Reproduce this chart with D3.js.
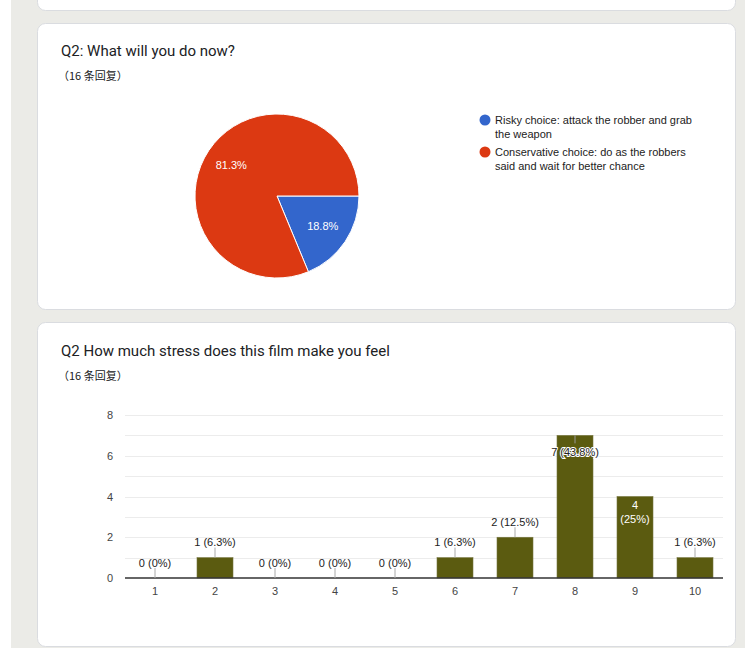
<!DOCTYPE html>
<html>
<head>
<meta charset="utf-8">
<script src="https://cdn.jsdelivr.net/npm/d3@7"></script>
<style>
  html, body { margin: 0; padding: 0; background: #fff; }
  svg { display: block; }
</style>
</head>
<body>
<svg id="page" width="754" height="648"></svg>
<script>
// pie: Q2 what will you do now
const choiceLabels = [
  ['Risky choice: attack the robber and grab', 'the weapon'],
  ['Conservative choice: do as the robbers', 'said and wait for better chance']
];
const choiceCounts = [3, 13];
const choiceColors = ['#3366cc', '#dc3912'];

// bars: stress level
const stressLevels = ['1', '2', '3', '4', '5', '6', '7', '8', '9', '10'];
const stressCounts = [0, 1, 0, 0, 0, 1, 2, 7, 4, 1];
const yTicks = [0, 2, 4, 6, 8];
const total = 16;

const svg = d3.select('#page');

// background + cards
svg.append('rect').attr('x', 11).attr('y', 0).attr('width', 734).attr('height', 648).attr('fill', '#ebebe7');
const cards = [[37, -20, 698, 30], [37, 23, 698, 286], [37, 322, 698, 324]];
cards.forEach(c => {
  svg.append('rect')
    .attr('x', c[0] + 0.5).attr('y', c[1] + 0.5)
    .attr('width', c[2]).attr('height', c[3])
    .attr('rx', 8)
    .attr('fill', '#fff')
    .attr('stroke', '#dadce0');
});

function header (title, y) {
  svg.append('text').attr('x', 61).attr('y', y)
    .style('font-family', 'Roboto, Arial, sans-serif').style('font-size', '15px').style('fill', '#202124')
    .text(title);
  svg.append('text').attr('x', 58).attr('y', y + 24)
    .style('font-family', '"Noto Sans CJK SC", sans-serif').style('font-size', '11px').style('fill', '#202124')
    .text('（16 条回复）');
}
header('Q2: What will you do now?', 56);
header('Q2 How much stress does this film make you feel', 356);

// ---- pie ----
const pie = d3.pie().sort(null).startAngle(Math.PI / 2).endAngle(Math.PI / 2 + 2 * Math.PI);
const arc = d3.arc().innerRadius(0).outerRadius(82);
const labelArc = d3.arc().innerRadius(55).outerRadius(55);
const pieG = svg.append('g').attr('transform', 'translate(277, 196)');
const slices = pie(choiceCounts);
pieG.selectAll('path').data(slices).enter().append('path')
  .attr('d', arc)
  .attr('fill', (d, i) => choiceColors[i])
  .attr('stroke', '#fff').attr('stroke-width', 1);
pieG.selectAll('text').data(slices).enter().append('text')
  .attr('transform', d => `translate(${labelArc.centroid(d)})`)
  .attr('text-anchor', 'middle').attr('dy', '0.35em')
  .style('font-family', 'Arial, "Liberation Sans", sans-serif').style('font-size', '11px').style('fill', '#fff')
  .text(d => (d.data / total * 100).toFixed(1) + '%');

const legend = svg.append('g').attr('transform', 'translate(485, 120)');
choiceLabels.forEach((lines, i) => {
  const g = legend.append('g').attr('transform', `translate(0, ${i * 32})`);
  g.append('circle').attr('r', 5.5).attr('fill', choiceColors[i]);
  lines.forEach((line, j) => {
    g.append('text').attr('x', 10).attr('y', j * 14).attr('dy', '0.35em')
      .style('font-family', 'Arial, "Liberation Sans", sans-serif').style('font-size', '11px').style('fill', '#222')
      .text(line);
  });
});

// ---- bars ----
const x = d3.scaleBand().domain(stressLevels).range([125, 725]).paddingInner(0.4).paddingOuter(0.2);
const y = d3.scaleLinear().domain([0, 8]).range([578, 415]);

const grid = svg.append('g');
grid.selectAll('line').data(d3.range(1, 9)).enter().append('line')
  .attr('x1', 125).attr('x2', 723)
  .attr('y1', d => Math.round(y(d)) + 0.5).attr('y2', d => Math.round(y(d)) + 0.5)
  .attr('stroke', '#ececec');

const yAxis = d3.axisLeft(y).tickValues(yTicks).tickSize(0).tickPadding(12);
svg.append('g').attr('transform', 'translate(125, 0)').call(yAxis)
  .call(g => g.select('.domain').remove())
  .selectAll('text').style('font-family', 'Arial, "Liberation Sans", sans-serif').style('font-size', '11px').style('fill', '#444');

svg.append('g').selectAll('rect').data(stressCounts).enter().append('rect')
  .attr('x', (d, i) => x(stressLevels[i]))
  .attr('width', x.bandwidth())
  .attr('y', d => y(d))
  .attr('height', d => y(0) - y(d))
  .attr('fill', '#5b5b10')
  .attr('stroke', '#777740').attr('stroke-width', 0.6);

const xAxis = d3.axisBottom(x).tickSize(0).tickPadding(9);
svg.append('g').attr('transform', 'translate(0, 578)').call(xAxis)
  .call(g => g.select('.domain').attr('stroke', '#333').attr('stroke-width', 1.5).attr('d', 'M125,0H723'))
  .selectAll('text').style('font-family', 'Arial, "Liberation Sans", sans-serif').style('font-size', '11px').style('fill', '#444');

// value labels
function pct (c) {
  const p = c / total * 100;
  return Number.isInteger(p) ? String(p) : p.toFixed(1);
}
const labelFont = 'Arial, "Liberation Sans", sans-serif';
const lab = svg.append('g');
stressCounts.forEach((c, i) => {
  const cx = x(stressLevels[i]) + x.bandwidth() / 2;
  const top = y(c);
  const txt = `${c} (${pct(c)}%)`;
  if (c === 4) {
    // white, wrapped inside bar
    [String(c), `(${pct(c)}%)`].forEach((t, j) => {
      lab.append('text').attr('x', cx).attr('y', top + 9 + j * 14).attr('dy', '0.35em')
        .attr('text-anchor', 'middle')
        .style('font-family', labelFont).style('font-size', '11px').style('fill', '#fff')
        .text(t);
    });
  } else if (c === 7) {
    lab.append('line').attr('x1', cx).attr('x2', cx).attr('y1', top).attr('y2', top + 8)
      .attr('stroke', '#999');
    lab.append('text').attr('x', cx).attr('y', top + 17).attr('dy', '0.35em')
      .attr('text-anchor', 'middle')
      .style('font-family', labelFont).style('font-size', '11px').style('fill', '#222')
      .style('stroke', '#fff').style('stroke-width', '2px').style('paint-order', 'stroke')
      .text(txt);
  } else {
    lab.append('line').attr('x1', cx).attr('x2', cx).attr('y1', top - 10).attr('y2', top)
      .attr('stroke', '#aaa');
    lab.append('text').attr('x', cx).attr('y', top - 15).attr('dy', '0.35em')
      .attr('text-anchor', 'middle')
      .style('font-family', labelFont).style('font-size', '11px').style('fill', '#222')
      .text(txt);
  }
});
</script>
</body>
</html>
